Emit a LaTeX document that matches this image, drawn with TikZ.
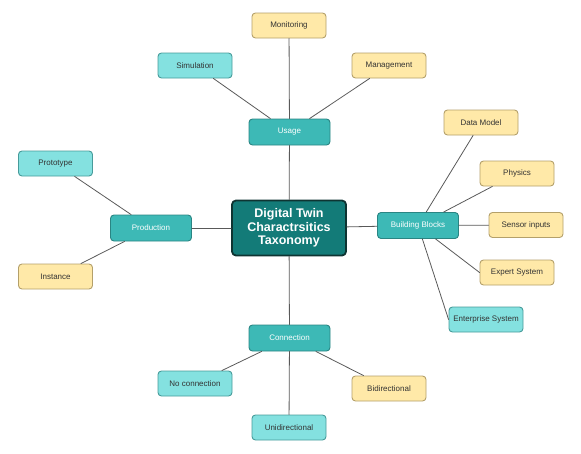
\documentclass[tikz,border=0pt]{standalone}
\usepackage{fontspec}
\setmainfont{Liberation Sans}
\usepackage{tikz}

\definecolor{rootfill}{HTML}{137B78}
\definecolor{rootline}{HTML}{0E3432}
\definecolor{midfill}{HTML}{3DB9B6}
\definecolor{midline}{HTML}{2A8583}
\definecolor{cyanfill}{HTML}{84E1E0}
\definecolor{cyanline}{HTML}{479B9A}
\definecolor{yelfill}{HTML}{FFE9A8}
\definecolor{yelline}{HTML}{B4A06A}

\begin{document}
\begin{tikzpicture}[x=1pt, y=-1pt, line join=round, line cap=round, font=\fontsize{8}{9.5}\selectfont,
	root/.style={draw=rootline, line width=1.8pt, fill=rootfill, rounded corners=4pt, minimum width=114pt, minimum height=55pt, align=center, text=white, font=\fontsize{12.5}{13.5}\selectfont\bfseries, inner sep=2pt},
	hub/.style={draw=midline, line width=0.9pt, fill=midfill, rounded corners=3.5pt, minimum width=81pt, minimum height=26pt, text=white, inner sep=1pt},
	leafc/.style={draw=cyanline, line width=0.9pt, fill=cyanfill, rounded corners=3.5pt, minimum width=74pt, minimum height=25pt, text=black!80, inner sep=1pt},
	leafy/.style={leafc, draw=yelline, fill=yelfill},
	link/.style={draw=black!65, line width=0.8pt}]
	% Khung ảnh
	\useasboundingbox (0, 0) rectangle (581, 453);

	% Nút gốc
	\node[root] (dt) at (289, 228) {Digital Twin\\Charactrsitics\\Taxonomy};

	% Các nhánh chính
	\node[hub] (usage) at (289.5, 132) {Usage};
	\node[hub] (prod) at (151, 228) {Production};
	\node[hub] (blocks) at (418, 225.5) {Building Blocks};
	\node[hub] (conn) at (289.5, 338) {Connection};

	% Nhánh Usage
	\node[leafy] (monit) at (289, 25.5) {Monitoring};
	\node[leafc] (simul) at (195, 65.5) {Simulation};
	\node[leafy] (manag) at (389, 65.5) {Management};

	% Nhánh Production
	\node[leafc] (proto) at (55.5, 163.5) {Prototype};
	\node[leafy] (inst) at (55.5, 276.5) {Instance};

	% Nhánh Building Blocks
	\node[leafy] (dmodel) at (481, 122.5) {Data Model};
	\node[leafy] (phys) at (517, 173.5) {Physics};
	\node[leafy] (sensor) at (526, 225) {Sensor inputs};
	\node[leafy] (expert) at (517, 272.5) {Expert System};
	\node[leafc] (enter) at (486, 319.5) {Enterprise System};

	% Nhánh Connection
	\node[leafc] (nocon) at (195, 383.5) {No connection};
	\node[leafc] (unidir) at (289, 427.5) {Unidirectional};
	\node[leafy] (bidir) at (389, 388.5) {Bidirectional};

	% Đường nối
	\foreach \a/\b in {dt/usage, dt/prod, dt/blocks, dt/conn,
		usage/monit, usage/simul, usage/manag, prod/proto, prod/inst,
		blocks/dmodel, blocks/phys, blocks/sensor, blocks/expert.west, blocks/enter.west,
		conn/nocon, conn/unidir, conn/bidir} {
		\path[link] (\a) -- (\b);
	}
\end{tikzpicture}
\end{document}
